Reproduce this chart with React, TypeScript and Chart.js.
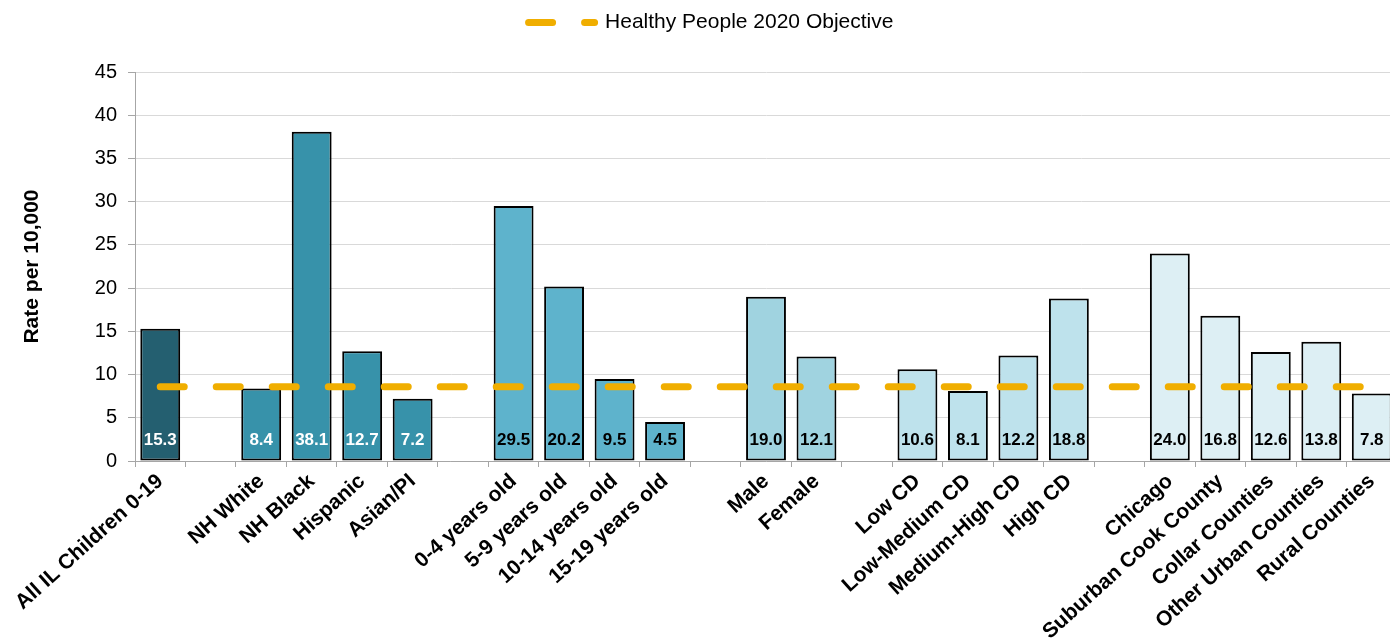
import React, { useEffect, useRef } from "react";
import { Chart, registerables } from "chart.js";

Chart.register(...registerables);

const categories: string[] = [
  "All IL Children 0-19", "",
  "NH White", "NH Black", "Hispanic", "Asian/PI", "",
  "0-4 years old", "5-9 years old", "10-14 years old", "15-19 years old", "",
  "Male", "Female", "",
  "Low CD", "Low-Medium CD", "Medium-High CD", "High CD", "",
  "Chicago", "Suburban Cook County", "Collar Counties", "Other Urban Counties", "Rural Counties",
];

const rates: (number | null)[] = [
  15.3, null,
  8.4, 38.1, 12.7, 7.2, null,
  29.5, 20.2, 9.5, 4.5, null,
  19.0, 12.1, null,
  10.6, 8.1, 12.2, 18.8, null,
  24.0, 16.8, 12.6, 13.8, 7.8,
];

const barColors: string[] = [
  "#245F70", "#ffffff",
  "#3792AA", "#3792AA", "#3792AA", "#3792AA", "#ffffff",
  "#5EB3CC", "#5EB3CC", "#5EB3CC", "#5EB3CC", "#ffffff",
  "#A0D3E0", "#A0D3E0", "#ffffff",
  "#BEE2EC", "#BEE2EC", "#BEE2EC", "#BEE2EC", "#ffffff",
  "#DDEFF4", "#DDEFF4", "#DDEFF4", "#DDEFF4", "#DDEFF4",
];

const labelColors: string[] = [
  "#ffffff", "#ffffff",
  "#ffffff", "#ffffff", "#ffffff", "#ffffff", "#000000",
  "#000000", "#000000", "#000000", "#000000", "#000000",
  "#000000", "#000000", "#000000",
  "#000000", "#000000", "#000000", "#000000", "#000000",
  "#000000", "#000000", "#000000", "#000000", "#000000",
];

const objectiveLabel = "Healthy People 2020 Objective";
const objectiveValue = 8.6;
const objective: number[] = categories.map(() => objectiveValue);

const yTicks: number[] = [0, 5, 10, 15, 20, 25, 30, 35, 40, 45];

const FONT = "'Liberation Sans', Arial, sans-serif";
const GOLD = "#F0AE00";

export default function App() {
  const ref = useRef<HTMLCanvasElement | null>(null);

  useEffect(() => {
    if (!ref.current) return;

    const legendMargin = {
      id: "legendMargin",
      beforeInit(chart: any) {
        const origFit = chart.legend.fit;
        chart.legend.fit = function () {
          origFit.call(this);
          this.height += 29;
        };
      },
    };

    const valueLabels = {
      id: "valueLabels",
      afterDatasetsDraw(chart: any) {
        const ctx = chart.ctx;
        const meta = chart.getDatasetMeta(0);
        ctx.save();
        ctx.font = `bold 17px ${FONT}`;
        ctx.textAlign = "center";
        ctx.textBaseline = "middle";
        meta.data.forEach((el: any, i: number) => {
          const v = rates[i];
          if (v === null || v === undefined) return;
          ctx.fillStyle = labelColors[i];
          ctx.fillText(v.toFixed(1), el.x, el.base - 20);
        });
        ctx.restore();
      },
    };

    const chart = new Chart(ref.current, {
      type: "bar",
      data: {
        labels: categories,
        datasets: [
          {
            type: "bar",
            label: "Rate",
            data: rates,
            backgroundColor: barColors,
            borderColor: "#000000",
            borderWidth: 2,
            borderSkipped: false,
            categoryPercentage: 1,
            barPercentage: 0.79,
            order: 2,
          } as any,
          {
            type: "line",
            label: objectiveLabel,
            data: objective,
            borderColor: GOLD,
            backgroundColor: GOLD,
            borderWidth: 7,
            borderDash: [24, 32],
            borderCapStyle: "round",
            pointRadius: 0,
            pointHoverRadius: 0,
            fill: false,
            order: 1,
          } as any,
        ],
      },
      options: {
        responsive: false,
        animation: false,
        layout: { padding: { top: 2, left: 0, right: 0, bottom: 0 } },
        plugins: {
          tooltip: { enabled: false },
          legend: {
            position: "top",
            labels: {
              font: { family: FONT, size: 21 },
              color: "#000000",
              usePointStyle: true,
              pointStyleWidth: 66,
              padding: 10,
              generateLabels: () => [
                {
                  text: objectiveLabel,
                  fillStyle: GOLD,
                  strokeStyle: GOLD,
                  lineWidth: 7,
                  lineDash: [24, 32],
                  lineDashOffset: 0,
                  lineCap: "round",
                  pointStyle: "line",
                  hidden: false,
                  datasetIndex: 1,
                } as any,
              ],
            },
          },
        },
        scales: {
          x: {
            afterFit: (s: any) => {
              s.height = 180;
            },
            grid: {
              display: true,
              drawOnChartArea: false,
              drawTicks: true,
              tickLength: 6,
              color: "#A6A6A6",
              offset: true,
            },
            border: { display: true, color: "#A6A6A6", width: 1 },
            ticks: {
              autoSkip: false,
              minRotation: 42,
              maxRotation: 42,
              padding: 2,
              color: "#000000",
              font: { family: FONT, size: 21, weight: "bold" },
            },
          },
          y: {
            min: 0,
            max: 45,
            afterFit: (s: any) => {
              s.width = 135;
            },
            afterBuildTicks: (s: any) => {
              s.ticks = yTicks.map((v) => ({ value: v }));
            },
            grid: {
              color: "#D9D9D9",
              lineWidth: 1,
              drawTicks: true,
              tickLength: 7,
              tickColor: "#A6A6A6",
            },
            border: { display: true, color: "#A6A6A6", width: 1 },
            ticks: {
              stepSize: 5,
              padding: 11,
              color: "#000000",
              font: { family: FONT, size: 20 },
            },
            title: {
              display: true,
              text: "Rate per 10,000",
              color: "#000000",
              font: { family: FONT, size: 21, weight: "bold" },
              padding: { top: 20, bottom: 0 },
            },
          },
          yRight: {
            position: "right",
            display: true,
            afterFit: (s: any) => {
              s.width = 25;
            },
            grid: { display: false, drawTicks: false },
            border: { display: false },
            ticks: { display: false },
          },
        },
      } as any,
      plugins: [legendMargin, valueLabels],
    });

    return () => chart.destroy();
  }, []);

  return (
    <div
      style={{
        position: "fixed",
        left: 0,
        top: 0,
        width: 1390,
        height: 641,
        overflow: "hidden",
        background: "#ffffff",
      }}
    >
      <canvas ref={ref} width={1422} height={641} style={{ width: 1422, height: 641, display: "block" }} />
    </div>
  );
}
